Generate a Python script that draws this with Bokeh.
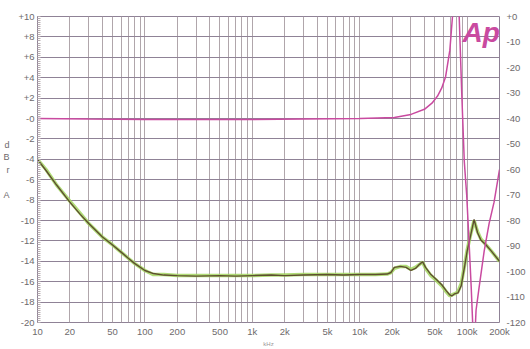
from bokeh.plotting import figure
from bokeh.models import Range1d, LinearAxis, FixedTicker, Label
from bokeh.embed import file_html
from bokeh.resources import INLINE

# ---------------- data ----------------
x_ticks = [10, 20, 50, 100, 200, 500, 1000, 2000, 5000, 10000, 20000, 50000, 100000, 200000]
x_tick_labels = ["10", "20", "50", "100", "200", "500", "1k", "2k", "5k", "10k", "20k", "50k", "100k", "200k"]
left_ticks = [10, 8, 6, 4, 2, 0, -2, -4, -6, -8, -10, -12, -14, -16, -18, -20]
left_tick_labels = ["+10", "+8", "+6", "+4", "+2", "-0", "-2", "-4", "-6", "-8", "-10", "-12", "-14", "-16", "-18", "-20"]
right_ticks = [0, -10, -20, -30, -40, -50, -60, -70, -80, -90, -100, -110, -120]
right_tick_labels = ["+0", "-10", "-20", "-30", "-40", "-50", "-60", "-70", "-80", "-90", "-100", "-110", "-120"]

# noise curve (dBrA, left axis), dark trace
noise_freq = [10, 12, 15, 20, 25, 30, 40, 50, 60, 70, 80, 100, 120, 150, 200, 300, 500, 700,
              1000, 1500, 2000, 3000, 5000, 7000, 10000, 14000, 18000, 19500, 21000, 24000,
              27000, 30000, 33000, 36000, 38500, 41000, 46000, 52000, 58000, 64000, 69000,
              72000, 76000, 82000, 88000, 95000, 100000, 108000, 116000, 125000, 134000,
              150000, 168000, 200000]
noise_dark = [-4.0, -5.1, -6.5, -8.2, -9.4, -10.3, -11.6, -12.4, -13.1, -13.7, -14.2, -14.9,
              -15.2, -15.35, -15.4, -15.45, -15.4, -15.45, -15.4, -15.35, -15.4, -15.35, -15.3,
              -15.35, -15.3, -15.3, -15.25, -15.1, -14.6, -14.5, -14.6, -14.9, -14.7, -14.3,
              -14.05, -14.6, -15.3, -15.8, -16.3, -16.9, -17.3, -17.4, -17.2, -17.1, -16.4,
              -14.4, -13.0, -11.4, -9.9, -11.2, -11.9, -12.4, -13.0, -14.0]
# second channel, light green trace
noise_green = [-4.0, -5.0, -6.5, -8.1, -9.3, -10.3, -11.6, -12.4, -13.1, -13.7, -14.2, -14.9,
               -15.3, -15.3, -15.4, -15.4, -15.4, -15.4, -15.4, -15.35, -15.35, -15.3, -15.3,
               -15.3, -15.3, -15.3, -15.25, -15.1, -14.7, -14.5, -14.5, -14.8, -14.6, -14.3,
               -14.1, -14.7, -15.4, -15.9, -16.4, -17.0, -17.4, -17.3, -17.2, -17.0, -16.2,
               -14.3, -12.9, -11.3, -10.0, -11.1, -11.8, -12.4, -13.0, -14.0]

# response curve (dBrA, left axis), magenta
resp_freq = [10, 30, 100, 300, 1000, 3000, 10000, 21000, 30000, 40000, 47000, 53000, 58000,
             63000, 69000, 73000, 77000, 81000, 84000, 89000, 94000, 99000, 104000, 109000,
             113000, 116000, 119000, 121000, 129000, 144000, 160000, 178000, 200000]
resp_db = [0.0, -0.05, -0.1, -0.1, -0.1, -0.05, 0.0, 0.1, 0.4, 0.9, 1.5, 2.2, 3.0, 4.1, 6.7,
           10.0, 13.0, 13.0, 10.5, 2.5, -4.2, -7.5, -12.0, -16.5, -20.5, -23.0, -20.5, -18.8,
           -16.6, -13.0, -10.3, -8.2, -5.0]

# ---------------- figure ----------------
VGRID = "#b0a6ab"
HGRID = "#8f8296"
TXT = "#6e6a6c"
FONT = "Liberation Sans"

p = figure(width=530, height=349, x_axis_type="log", output_backend="svg",
           toolbar_location=None, x_range=Range1d(10, 200000), y_range=Range1d(-20, 10),
           min_border_left=36, min_border_right=31, min_border_top=16, min_border_bottom=24,
           background_fill_color="white", border_fill_color="white")
p.extra_y_ranges = {"right": Range1d(-120, 0)}
p.outline_line_color = HGRID
p.outline_line_width = 1

# grid
grid_ticks = [m * 10 ** e for e in range(1, 6) for m in range(1, 10)] + [200000]
p.xgrid.ticker = FixedTicker(ticks=grid_ticks)
p.xgrid.grid_line_color = VGRID
p.xgrid.grid_line_width = 1
p.ygrid.ticker = FixedTicker(ticks=left_ticks)
p.ygrid.grid_line_color = HGRID
p.ygrid.grid_line_width = 1

# x axis
xa = p.xaxis[0]
xa.ticker = FixedTicker(ticks=x_ticks)
xa.major_label_overrides = {t: l for t, l in zip(x_ticks, x_tick_labels)}
xa.major_tick_line_color = None
xa.major_tick_out = 0
xa.major_tick_in = 0
xa.minor_tick_line_color = None
xa.minor_tick_out = 0
xa.axis_line_color = None
xa.major_label_standoff = 3
xa.major_label_text_font = FONT
xa.major_label_text_font_size = "9.5px"
xa.major_label_text_color = TXT
xa.axis_label = "kHz"
xa.axis_label_standoff = 1
xa.axis_label_text_font = FONT
xa.axis_label_text_font_size = "6px"
xa.axis_label_text_font_style = "normal"
xa.axis_label_text_color = "#9a9698"

# left axis
ya = p.yaxis[0]
ya.ticker = FixedTicker(ticks=left_ticks,
                        minor_ticks=[v / 5 for v in range(-100, 51)])
ya.major_label_overrides = {t: l for t, l in zip(left_ticks, left_tick_labels)}
ya.axis_line_color = HGRID
ya.major_tick_line_color = HGRID
ya.major_tick_in = 3
ya.major_tick_out = 0
ya.minor_tick_line_color = "#b8aeb3"
ya.minor_tick_in = 3
ya.minor_tick_out = 0
ya.major_label_standoff = 3
ya.major_label_text_font = FONT
ya.major_label_text_font_size = "9.5px"
ya.major_label_text_color = TXT
ya.axis_label = "d\nB\nr\n\nA"
ya.axis_label_orientation = "horizontal"
ya.axis_label_standoff = 6
ya.axis_label_text_font = FONT
ya.axis_label_text_font_size = "9px"
ya.axis_label_text_font_style = "normal"
ya.axis_label_text_color = TXT
ya.axis_label_text_line_height = 1.25

# right axis
ra = LinearAxis(y_range_name="right", ticker=FixedTicker(ticks=right_ticks))
ra.major_label_overrides = {t: l for t, l in zip(right_ticks, right_tick_labels)}
ra.axis_line_color = None
ra.major_tick_line_color = None
ra.major_tick_out = 0
ra.major_tick_in = 0
ra.minor_tick_line_color = None
ra.minor_tick_out = 0
ra.major_label_standoff = 7
ra.major_label_text_font = FONT
ra.major_label_text_font_size = "9.5px"
ra.major_label_text_color = TXT
p.add_layout(ra, "right")

# curves
p.line(noise_freq, noise_green, line_color="#a2d65f", line_width=3.5, line_alpha=0.85)
p.line(noise_freq, noise_dark, line_color="#5e4e30", line_width=1.4)
p.line(resp_freq, resp_db, line_color="#c94aa0", line_width=1.5)

# logo (screen units are relative to the plot frame)
p.add_layout(Label(x=425, y=306, x_units="screen", y_units="screen", text="Ap",
                   text_font=FONT, text_font_size="28px", text_font_style="bold italic",
                   text_color="#c94aa0", text_align="left", text_baseline="top"))

open("out.html", "w").write(file_html(p, INLINE))
